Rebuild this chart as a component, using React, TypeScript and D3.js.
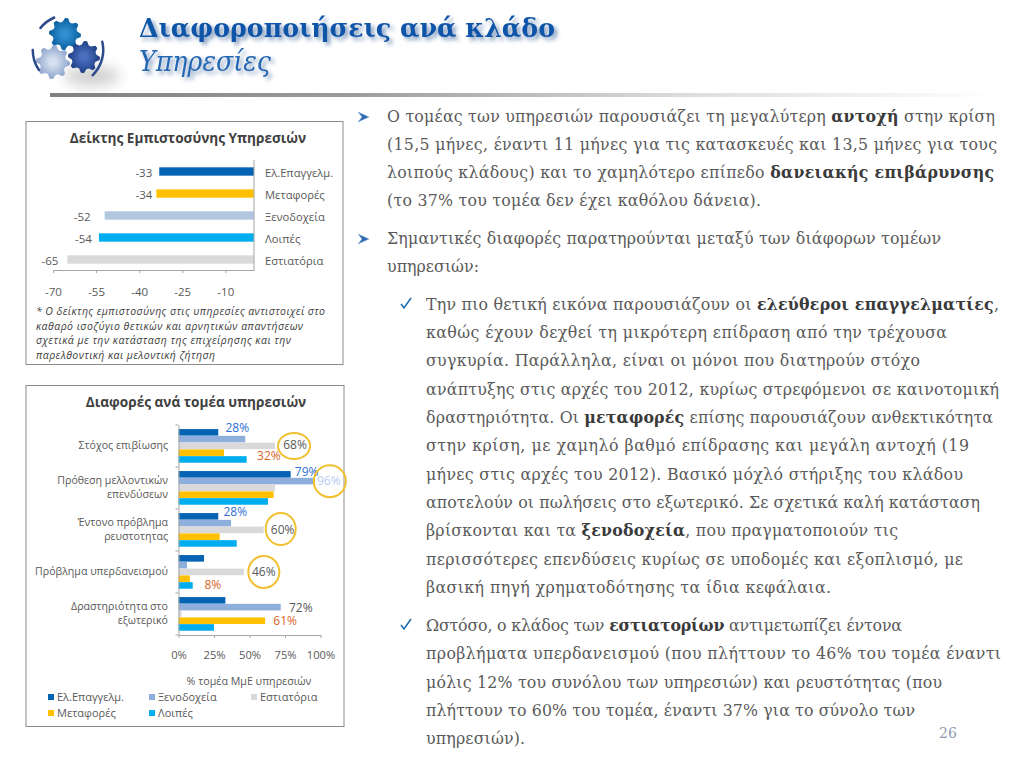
import { useEffect, useRef } from 'react';
import * as d3 from 'd3';

// confidence index chart
const confidenceCategories = ['Ελ.Επαγγελμ.', 'Μεταφορές', 'Ξενοδοχεία', 'Λοιπές', 'Εστιατόρια'];
const confidenceValues = [-33, -34, -52, -54, -65];
const confidenceTicks = [-70, -55, -40, -25, -10];
const confidenceNote = [
  '* Ο δείκτης εμπιστοσύνης στις υπηρεσίες αντιστοιχεί στο',
  'καθαρό ισοζύγιο θετικών και αρνητικών απαντήσεων',
  'σχετικά με την κατάσταση της επιχείρησης και την',
  'παρελθοντική και μελοντική ζήτηση',
];

// sector differences chart
const sectorCategories = [
  ['Στόχος επιβίωσης'],
  ['Πρόθεση μελλοντικών', 'επενδύσεων'],
  ['Έντονο πρόβλημα', 'ρευστοτητας'],
  ['Πρόβλημα υπερδανεισμού'],
  ['Δραστηριότητα στο', 'εξωτερικό'],
];
const seriesNames = ['Ελ.Επαγγελμ.', 'Ξενοδοχεία', 'Εστιατόρια', 'Μεταφορές', 'Λοιπές'];
const elEpangelm = [28, 79, 28, 18, 33];
const xenodocheia = [47, 96, 37, 6, 72];
const estiatoria = [68, 68, 60, 46, 2];
const metafores = [32, 67, 29, 8, 61];
const loipes = [48, 63, 41, 10, 25];
const sectorTicks = [0, 25, 50, 75, 100];

const bodyLines = [
  '>Ο τομέας των υπηρεσιών παρουσιάζει τη μεγαλύτερη **αντοχή** στην κρίση',
  '(15,5 μήνες, έναντι 11 μήνες για τις κατασκευές και 13,5 μήνες για τους',
  'λοιπούς κλάδους) και το χαμηλότερο επίπεδο **δανειακής επιβάρυνσης**',
  '(το 37% του τομέα δεν έχει καθόλου δάνεια).',
  '>Σημαντικές διαφορές παρατηρούνται μεταξύ των διάφορων τομέων',
  'υπηρεσιών:',
  'vΤην πιο θετική εικόνα παρουσιάζουν οι **ελεύθεροι επαγγελματίες**,',
  '-καθώς έχουν δεχθεί τη μικρότερη επίδραση από την τρέχουσα',
  '-συγκυρία. Παράλληλα, είναι οι μόνοι που διατηρούν στόχο',
  '-ανάπτυξης στις αρχές του 2012, κυρίως στρεφόμενοι σε καινοτομική',
  '-δραστηριότητα. Οι **μεταφορές** επίσης παρουσιάζουν ανθεκτικότητα',
  '-στην κρίση, με χαμηλό βαθμό επίδρασης και μεγάλη αντοχή (19',
  '-μήνες στις αρχές του 2012). Βασικό μόχλό στήριξης του κλάδου',
  '-αποτελούν οι πωλήσεις στο εξωτερικό. Σε σχετικά καλή κατάσταση',
  '-βρίσκονται και τα **ξενοδοχεία**, που πραγματοποιούν τις',
  '-περισσότερες επενδύσεις κυρίως σε υποδομές και εξοπλισμό, με',
  '-βασική πηγή χρηματοδότησης τα ίδια κεφάλαια.',
  'vΩστόσο, ο κλάδος των **εστιατορίων** αντιμετωπίζει έντονα',
  '-προβλήματα υπερδανεισμού (που πλήττουν το 46% του τομέα έναντι',
  '-μόλις 12% του συνόλου των υπηρεσιών) και ρευστότητας (που',
  '-πλήττουν το 60% του τομέα, έναντι 37% για το σύνολο των',
  '-υπηρεσιών).',
];
const bodyBaselines = [122, 150, 178, 206, 244, 272, 310, 338, 366, 395, 423, 451, 480, 508, 536, 565, 593, 631, 659, 688, 716, 744];
const bodyRightEdges = [995, 997, 994, 761, 941, 479, 999, 947, 920, 999, 993, 969, 963, 980, 898, 963, 831, 902, 1001, 942, 915, 525];

const chartFont = '"Open Sans", sans-serif';
const bodyFont = '"DejaVu Serif", serif';
const blue = '#0563b4';
const amber = '#ffc000';
const paleBlue = '#b3c6e0';
const midBlue = '#8eaedb';
const cyan = '#00aeef';
const lightGray = '#d9d9d9';
const tickGray = '#595959';
const frameGray = '#8c8c8c';

const gearPath = (r: number, teeth: number) =>
  d3.lineRadial<number>()
    .angle((d) => (d / (teeth * 4)) * 2 * Math.PI)
    .radius((d) => (d % 4 < 2 ? r : r * 0.78))
    .curve(d3.curveLinearClosed)(d3.range(teeth * 4));

export default function App() {
  const ref = useRef<SVGSVGElement | null>(null);

  useEffect(() => {
    if (!ref.current) return;
    const svg = d3.select(ref.current);
    svg.selectAll('*').remove();

    const defs = svg.append('defs');
    defs.append('filter').attr('id', 'logoShade')
      .attr('x', '-50%').attr('y', '-80%').attr('width', '200%').attr('height', '260%')
      .append('feGaussianBlur').attr('stdDeviation', 7);
    const shadow = defs.append('filter').attr('id', 'headShadow')
      .attr('x', '-5%').attr('y', '-30%').attr('width', '110%').attr('height', '170%');
    shadow.append('feDropShadow').attr('dx', 3).attr('dy', 3).attr('stdDeviation', 2)
      .attr('flood-color', '#6f8fb5').attr('flood-opacity', 0.9);
    const rule = defs.append('linearGradient').attr('id', 'rule');
    rule.append('stop').attr('offset', '0%').attr('stop-color', '#808080');
    rule.append('stop').attr('offset', '32%').attr('stop-color', '#9c9c9c');
    rule.append('stop').attr('offset', '68%').attr('stop-color', '#dedede');
    rule.append('stop').attr('offset', '100%').attr('stop-color', '#ffffff');

    // header
    const logo = svg.append('g');
    logo.append('ellipse').attr('cx', 92).attr('cy', 76).attr('rx', 28).attr('ry', 10)
      .attr('fill', '#cfcfcf').attr('filter', 'url(#logoShade)');
    const gears = [
      { id: 'gTop', cx: 65, cy: 34, r: 16, light: '#2f8fd0', dark: '#0b5f9f' },
      { id: 'gLeft', cx: 53, cy: 62, r: 17, light: '#d5e0f0', dark: '#8ea4cb' },
      { id: 'gRight', cx: 84, cy: 57, r: 16, light: '#4a6fbd', dark: '#1f3f86' },
    ];
    gears.forEach((g) => {
      const grad = defs.append('radialGradient').attr('id', g.id);
      grad.append('stop').attr('offset', '20%').attr('stop-color', g.light);
      grad.append('stop').attr('offset', '100%').attr('stop-color', g.dark);
      logo.append('path').attr('d', gearPath(g.r, 8))
        .attr('transform', `translate(${g.cx},${g.cy})`).attr('fill', `url(#${g.id})`);
    });
    const swoosh = d3.arc<any>().innerRadius(34).outerRadius(36.5).cornerRadius(1);
    [[-0.93, -0.37], [1.3, 2.4], [4.08, 4.75]].forEach(([a0, a1]) => {
      logo.append('path')
        .attr('d', swoosh({ startAngle: a0, endAngle: a1 }))
        .attr('transform', 'translate(68,50)')
        .attr('fill', '#2c4a8c');
    });

    const heading = (text: string, y: number, size: number, style: string, weight: string, color: string, len: number) => {
      svg.append('text').attr('x', 139).attr('y', y)
        .attr('font-family', bodyFont).attr('font-size', size)
        .attr('font-style', style).attr('font-weight', weight)
        .attr('textLength', len).attr('lengthAdjust', 'spacingAndGlyphs')
        .attr('fill', color).attr('filter', 'url(#headShadow)').text(text);
    };
    heading('Διαφοροποιήσεις ανά κλάδο', 37, 26, 'normal', 'bold', '#0a55a8', 416);
    heading('Υπηρεσίες', 71, 27, 'italic', 'normal', '#2467b3', 132);

    svg.append('rect').attr('x', 50).attr('y', 93).attr('width', 950).attr('height', 4).attr('fill', 'url(#rule)');

    // first chart: confidence index
    const c1 = svg.append('g').attr('font-family', chartFont);
    c1.append('rect').attr('x', 26).attr('y', 121.5).attr('width', 317).attr('height', 243)
      .attr('fill', '#fff').attr('stroke', frameGray).attr('stroke-width', 1);
    c1.append('text').attr('x', 188).attr('y', 143).attr('text-anchor', 'middle')
      .attr('font-size', 13.6).attr('font-weight', 700).attr('fill', '#404040')
      .text('Δείκτης Εμπιστοσύνης  Υπηρεσιών');

    const x1 = d3.scaleLinear().domain([-70, 0]).range([53, 254]);
    const y1 = d3.scaleBand<string>().domain(confidenceCategories).range([160.5, 270.5]).paddingInner(0.62).paddingOuter(0.31);
    const colors1 = [blue, amber, paleBlue, cyan, lightGray];
    const valueGaps = [7, 4, 14, 7, 9];

    const axis1 = c1.append('g').attr('transform', 'translate(0,270)')
      .call(d3.axisBottom(x1).tickValues(confidenceTicks).tickSize(3).tickSizeOuter(0).tickFormat((d) => `${d}`));
    axis1.selectAll('text').attr('font-size', 11.5).attr('fill', tickGray).attr('font-family', chartFont).attr('dy', 20);
    axis1.selectAll('line').attr('stroke', '#a6a6a6');
    axis1.select('.domain').attr('stroke', '#a6a6a6');

    confidenceCategories.forEach((cat, i) => {
      c1.append('rect').attr('x', x1(confidenceValues[i])).attr('y', y1(cat)!)
        .attr('width', x1(0) - x1(confidenceValues[i])).attr('height', y1.bandwidth())
        .attr('fill', colors1[i]);
      c1.append('text').attr('x', x1(confidenceValues[i]) - valueGaps[i]).attr('y', y1(cat)! + y1.bandwidth() / 2 + 5)
        .attr('text-anchor', 'end').attr('font-size', 11.5).attr('fill', tickGray).text(confidenceValues[i]);
      c1.append('text').attr('x', 265).attr('y', y1(cat)! + y1.bandwidth() / 2 + 5)
        .attr('font-size', 11.2).attr('fill', tickGray).text(cat);
    });
    c1.append('line').attr('x1', x1(0)).attr('x2', x1(0)).attr('y1', 160).attr('y2', 270).attr('stroke', '#a6a6a6');

    confidenceNote.forEach((line, i) => {
      c1.append('text').attr('x', 36).attr('y', 315 + i * 14.5)
        .attr('font-size', 10.5).attr('font-style', 'italic').attr('fill', '#404040')
        .attr('textLength', [289, 267, 255, 179][i]).attr('lengthAdjust', 'spacing').text(line);
    });

    // second chart: sector differences
    const c2 = svg.append('g').attr('font-family', chartFont);
    c2.append('rect').attr('x', 26).attr('y', 385.5).attr('width', 318).attr('height', 341)
      .attr('fill', '#fff').attr('stroke', frameGray).attr('stroke-width', 1);
    c2.append('text').attr('x', 196).attr('y', 407).attr('text-anchor', 'middle')
      .attr('font-size', 13.6).attr('font-weight', 700).attr('fill', '#404040')
      .text('Διαφορές ανά τομέα υπηρεσιών');

    const x2 = d3.scaleLinear().domain([0, 100]).range([178.5, 320.5]);
    const y2 = d3.scaleBand<number>().domain(d3.range(sectorCategories.length)).range([425, 635]);
    const inner = d3.scaleBand<number>().domain(d3.range(seriesNames.length)).range([0, y2.bandwidth()]).paddingOuter(0.6);
    const seriesValues = [elEpangelm, xenodocheia, estiatoria, metafores, loipes];
    const colors2 = [blue, midBlue, lightGray, amber, cyan];

    seriesValues.forEach((vals, s) => {
      vals.forEach((v, c) => {
        c2.append('rect').attr('x', x2(0)).attr('y', y2(c)! + inner(s)!)
          .attr('width', x2(v) - x2(0)).attr('height', inner.bandwidth() - 0.2)
          .attr('fill', colors2[s]);
      });
    });

    const axis2x = c2.append('g').attr('transform', 'translate(0,635)')
      .call(d3.axisBottom(x2).tickValues(sectorTicks).tickSize(3).tickSizeOuter(0).tickFormat((d) => `${d}%`));
    axis2x.selectAll('text').attr('font-size', 11.2).attr('fill', tickGray).attr('font-family', chartFont).attr('dy', 17.5);
    const axis2y = c2.append('g').attr('transform', `translate(${x2(0)},0)`)
      .call(d3.axisLeft(y2).tickValues([]).tickSizeOuter(0));
    d3.range(sectorCategories.length + 1).forEach((i) => {
      const ty = 425 + i * y2.step();
      axis2y.append('line').attr('x1', -3).attr('x2', 0).attr('y1', ty).attr('y2', ty).attr('stroke', '#a6a6a6');
    });
    c2.selectAll('.domain').attr('stroke', '#a6a6a6');
    axis2x.selectAll('line').attr('stroke', '#a6a6a6');

    sectorCategories.forEach((lines, c) => {
      const mid = y2(c)! + y2.bandwidth() / 2 - 1;
      lines.forEach((line, i) => {
        c2.append('text').attr('x', 168).attr('text-anchor', 'end')
          .attr('y', mid + 4 + (i - (lines.length - 1) / 2) * 14)
          .attr('font-size', 10.6).attr('fill', tickGray).text(line);
      });
    });

    // value callouts: [category, series, dx from bar end, dy from bar centre, colour]
    const callouts: [number, number, number, number, string][] = [
      [0, 0, 19, 0, '#2f6fd0'],
      [0, 2, 20, 3, '#595959'],
      [0, 3, 45, 7, '#d8652a'],
      [1, 0, 16, 2, '#2f6fd0'],
      [1, 1, 14, 4, '#b7cdf0'],
      [2, 0, 17, 0, '#2f6fd0'],
      [2, 2, 19, 4, '#595959'],
      [3, 2, 20, 4, '#595959'],
      [3, 3, 23, 10, '#d8652a'],
      [4, 1, 20, 5, '#595959'],
      [4, 3, 20, 4, '#d8652a'],
    ];
    callouts.forEach(([c, s, dx, dy, color]) => {
      const v = seriesValues[s][c];
      c2.append('text').attr('x', x2(v) + dx).attr('y', y2(c)! + inner(s)! + inner.bandwidth() / 2 + dy)
        .attr('text-anchor', 'middle').attr('font-size', 12).attr('fill', color).text(`${v}%`);
    });

    // rings around the highlighted values: [category, series, dx, dy, rx, ry]
    const rings: [number, number, number, number, number, number][] = [
      [0, 2, 19, 0, 16, 13],
      [1, 1, 15, 0, 16, 16],
      [2, 2, 17, -1, 15, 16],
      [3, 2, 20, 0, 15.5, 16],
    ];
    rings.forEach(([c, s, dx, dy, rx, ry]) => {
      c2.append('ellipse').attr('cx', x2(seriesValues[s][c]) + dx)
        .attr('cy', y2(c)! + inner(s)! + inner.bandwidth() / 2 + dy)
        .attr('rx', rx).attr('ry', ry)
        .attr('fill', 'none').attr('stroke', '#f0c030').attr('stroke-width', 2);
    });

    c2.append('text').attr('x', 249).attr('y', 684.5).attr('text-anchor', 'middle')
      .attr('font-size', 10.7).attr('fill', tickGray).text('% τομέα ΜμΕ υπηρεσιών');

    const legendX = d3.scaleOrdinal<number, number>().domain([0, 1, 2]).range([48, 149, 251]);
    seriesNames.forEach((name, s) => {
      const col = s < 3 ? s : s - 3;
      const rowY = s < 3 ? 697 : 713;
      c2.append('rect').attr('x', legendX(col)).attr('y', rowY - 3).attr('width', 6).attr('height', 6).attr('fill', colors2[s]);
      c2.append('text').attr('x', legendX(col) + 9).attr('y', rowY + 4)
        .attr('font-size', 11).attr('fill', tickGray).text(name);
    });

    // body text
    const body = svg.append('g').attr('font-family', bodyFont).attr('font-size', 15.8).attr('fill', '#5a5a5a');
    bodyLines.forEach((raw, i) => {
      const marker = raw[0];
      const level2 = marker === 'v' || marker === '-' || i >= 6;
      const clean = marker === '>' || marker === 'v' || marker === '-' ? raw.slice(1) : raw;
      const left = level2 ? 426 : 387;
      const t = body.append('text').attr('x', left).attr('y', bodyBaselines[i]);
      clean.split('**').forEach((part, j) => {
        const span = t.append('tspan').text(part);
        if (j % 2) span.attr('font-weight', 700).attr('fill', '#3a3a3a');
      });
      // stretch the line so that it ends where the reference line ends
      const len = (t.node() as SVGTextElement).getComputedTextLength();
      const gap = (bodyRightEdges[i] - left - len) / Math.max(1, clean.replace(/\*\*/g, '').length - 1);
      t.attr('letter-spacing', gap.toFixed(3));

      if (marker === '>') {
        const by = bodyBaselines[i] - 5;
        svg.append('path')
          .attr('d', d3.line()([[358, by - 5], [369, by], [358, by + 5], [362, by]]) + 'Z')
          .attr('fill', '#2f6bb0').attr('stroke', '#7fa7d6').attr('stroke-width', 0.5);
      }
      if (marker === 'v') {
        const by = bodyBaselines[i] - 6;
        svg.append('path')
          .attr('d', d3.line()([[401, by], [404, by + 4], [411, by - 6]])!)
          .attr('fill', 'none').attr('stroke', '#1f6fb0').attr('stroke-width', 1.6);
      }
    });

    svg.append('text').attr('x', 948).attr('y', 738).attr('text-anchor', 'middle')
      .attr('font-family', bodyFont).attr('font-size', 14).attr('fill', '#8f9bb0').text('26');
  }, []);

  return (
    <svg ref={ref} width={1024} height={768} style={{ position: 'absolute', left: 0, top: 0, background: '#fff' }} />
  );
}
